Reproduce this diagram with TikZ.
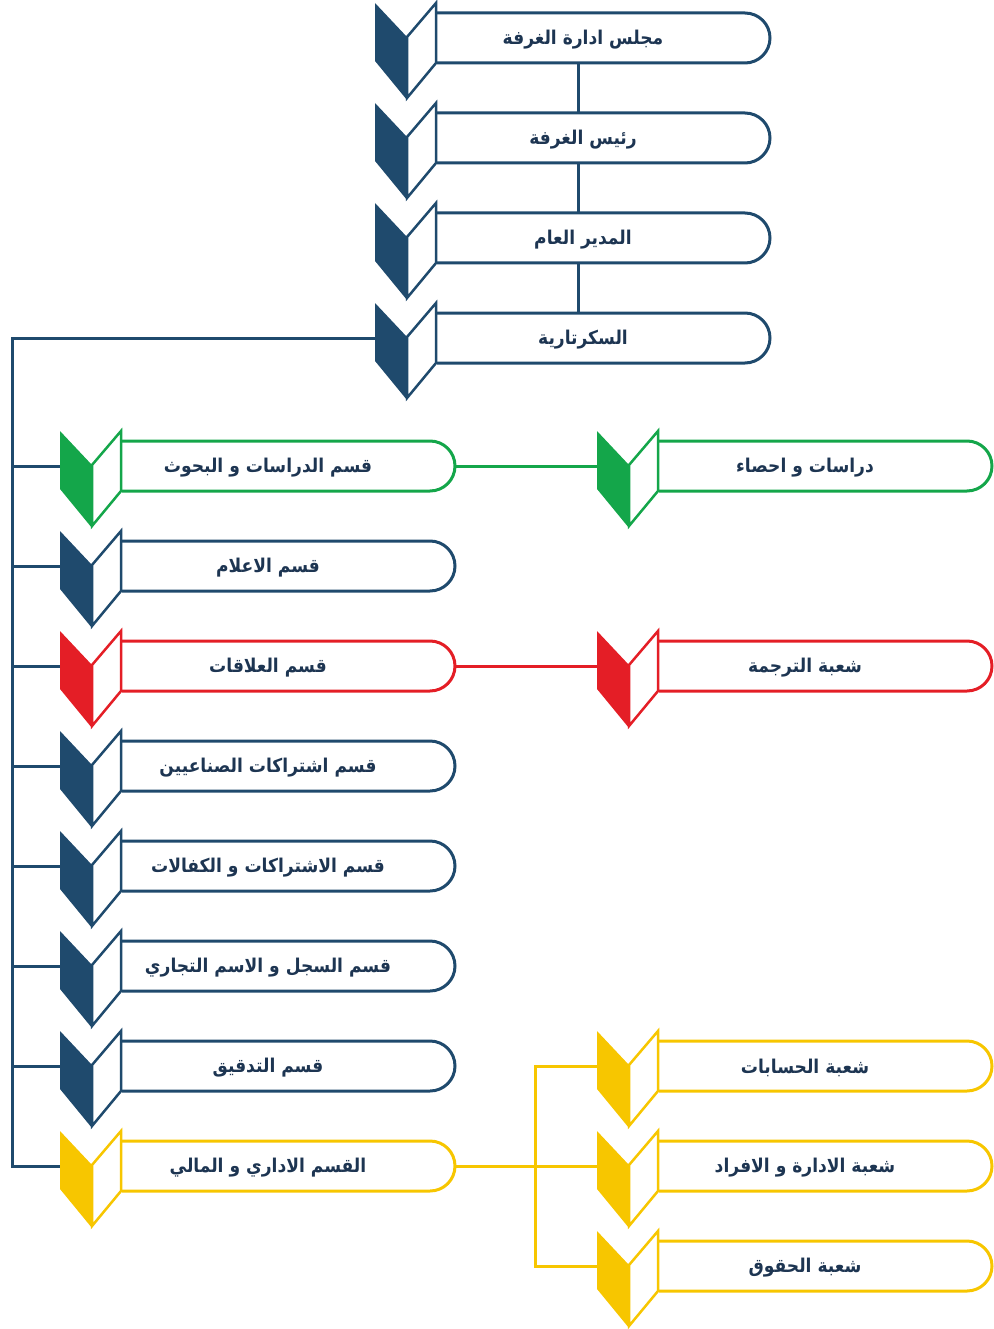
\documentclass[tikz,border=0pt]{standalone}
\usepackage{fontspec}
\usepackage{tikz}
\usetikzlibrary{calc}
\TeXXeTstate=1
\newfontfamily\arabicfont[Script=Arabic,FakeStretch=0.9]{DejaVu Sans}
\definecolor{Navy}{HTML}{1F4A6D}
\definecolor{Leaf}{HTML}{14A64A}
\definecolor{Signal}{HTML}{E41E26}
\definecolor{Gold}{HTML}{F7C600}
\definecolor{Ink}{HTML}{1D3552}

\begin{document}
\begin{tikzpicture}[
  x=1pt,y=-1pt,
  caption/.style={font=\arabicfont\bfseries\fontsize{19}{22}\selectfont,text=Ink,inner sep=0pt},
  link/.style={draw=#1,line width=3pt},
  pics/unit/.style 2 args={code={
    \fill[#1] (0,-35) -- (32,-1) -- (32,62) -- (0,23) -- cycle;
    \draw[#1,line width=2.5pt,fill=white] (32,-1) -- (61,-35) -- (61,25) -- (32,60) -- cycle;
    \draw[#1,line width=3pt] (62,-25) -- (370,-25) arc[start angle=-90,end angle=90,radius=25] -- (62,25);
    \node[caption] (-txt) at (208,2) {#2};
    \coordinate (-in) at (0,0);
    \coordinate (-out) at (395,0);
    \coordinate (-top) at (203,-25);
    \coordinate (-bot) at (203,25);
  }}
]
\useasboundingbox (0,0) rectangle (993,1329);
% top line
\pic (board) at (375,38) {unit={Navy}{\beginR مجلس ادارة الغرفة\endR}};
\pic (chair) at (375,138) {unit={Navy}{\beginR رئيس الغرفة\endR}};
\pic (gm) at (375,238) {unit={Navy}{\beginR المدير العام\endR}};
\pic (sec) at (375,338) {unit={Navy}{\beginR السكرتارية\endR}};
% departments
\pic (research) at (60,466) {unit={Leaf}{\beginR قسم الدراسات و البحوث\endR}};
\pic (media) at (60,566) {unit={Navy}{\beginR قسم الاعلام\endR}};
\pic (relations) at (60,666) {unit={Signal}{\beginR قسم العلاقات\endR}};
\pic (industry) at (60,766) {unit={Navy}{\beginR قسم اشتراكات الصناعيين\endR}};
\pic (subs) at (60,866) {unit={Navy}{\beginR قسم الاشتراكات و الكفالات\endR}};
\pic (registry) at (60,966) {unit={Navy}{\beginR قسم السجل و الاسم التجاري\endR}};
\pic (audit) at (60,1066) {unit={Navy}{\beginR قسم التدقيق\endR}};
\pic (finance) at (60,1166) {unit={Gold}{\beginR القسم الاداري و المالي\endR}};
% sections
\pic (stats) at (597,466) {unit={Leaf}{\beginR دراسات و احصاء\endR}};
\pic (transl) at (597,666) {unit={Signal}{\beginR شعبة الترجمة\endR}};
\pic (accounts) at (597,1066) {unit={Gold}{\beginR شعبة الحسابات\endR}};
\pic (hr) at (597,1166) {unit={Gold}{\beginR شعبة الادارة و الافراد\endR}};
\pic (rights) at (597,1266) {unit={Gold}{\beginR شعبة الحقوق\endR}};
\coordinate (trunk) at (12,1166);
\coordinate (fork) at (535,1166);
\draw[link=Navy] (board-bot) -- (chair-top);
\draw[link=Navy] (chair-bot) -- (gm-top);
\draw[link=Navy] (gm-bot) -- (sec-top);
\draw[link=Navy] (sec-in) -| (trunk) -- (finance-in);
\draw[link=Navy] (research-in) -- (research-in -| trunk);
\draw[link=Navy] (media-in) -- (media-in -| trunk);
\draw[link=Navy] (relations-in) -- (relations-in -| trunk);
\draw[link=Navy] (industry-in) -- (industry-in -| trunk);
\draw[link=Navy] (subs-in) -- (subs-in -| trunk);
\draw[link=Navy] (registry-in) -- (registry-in -| trunk);
\draw[link=Navy] (audit-in) -- (audit-in -| trunk);
\draw[link=Leaf] (research-out) -- (stats-in);
\draw[link=Signal] (relations-out) -- (transl-in);
\draw[link=Gold] (finance-out) -- (hr-in);
\draw[link=Gold] (accounts-in) -| (fork) |- (rights-in);
\end{tikzpicture}
\end{document}
